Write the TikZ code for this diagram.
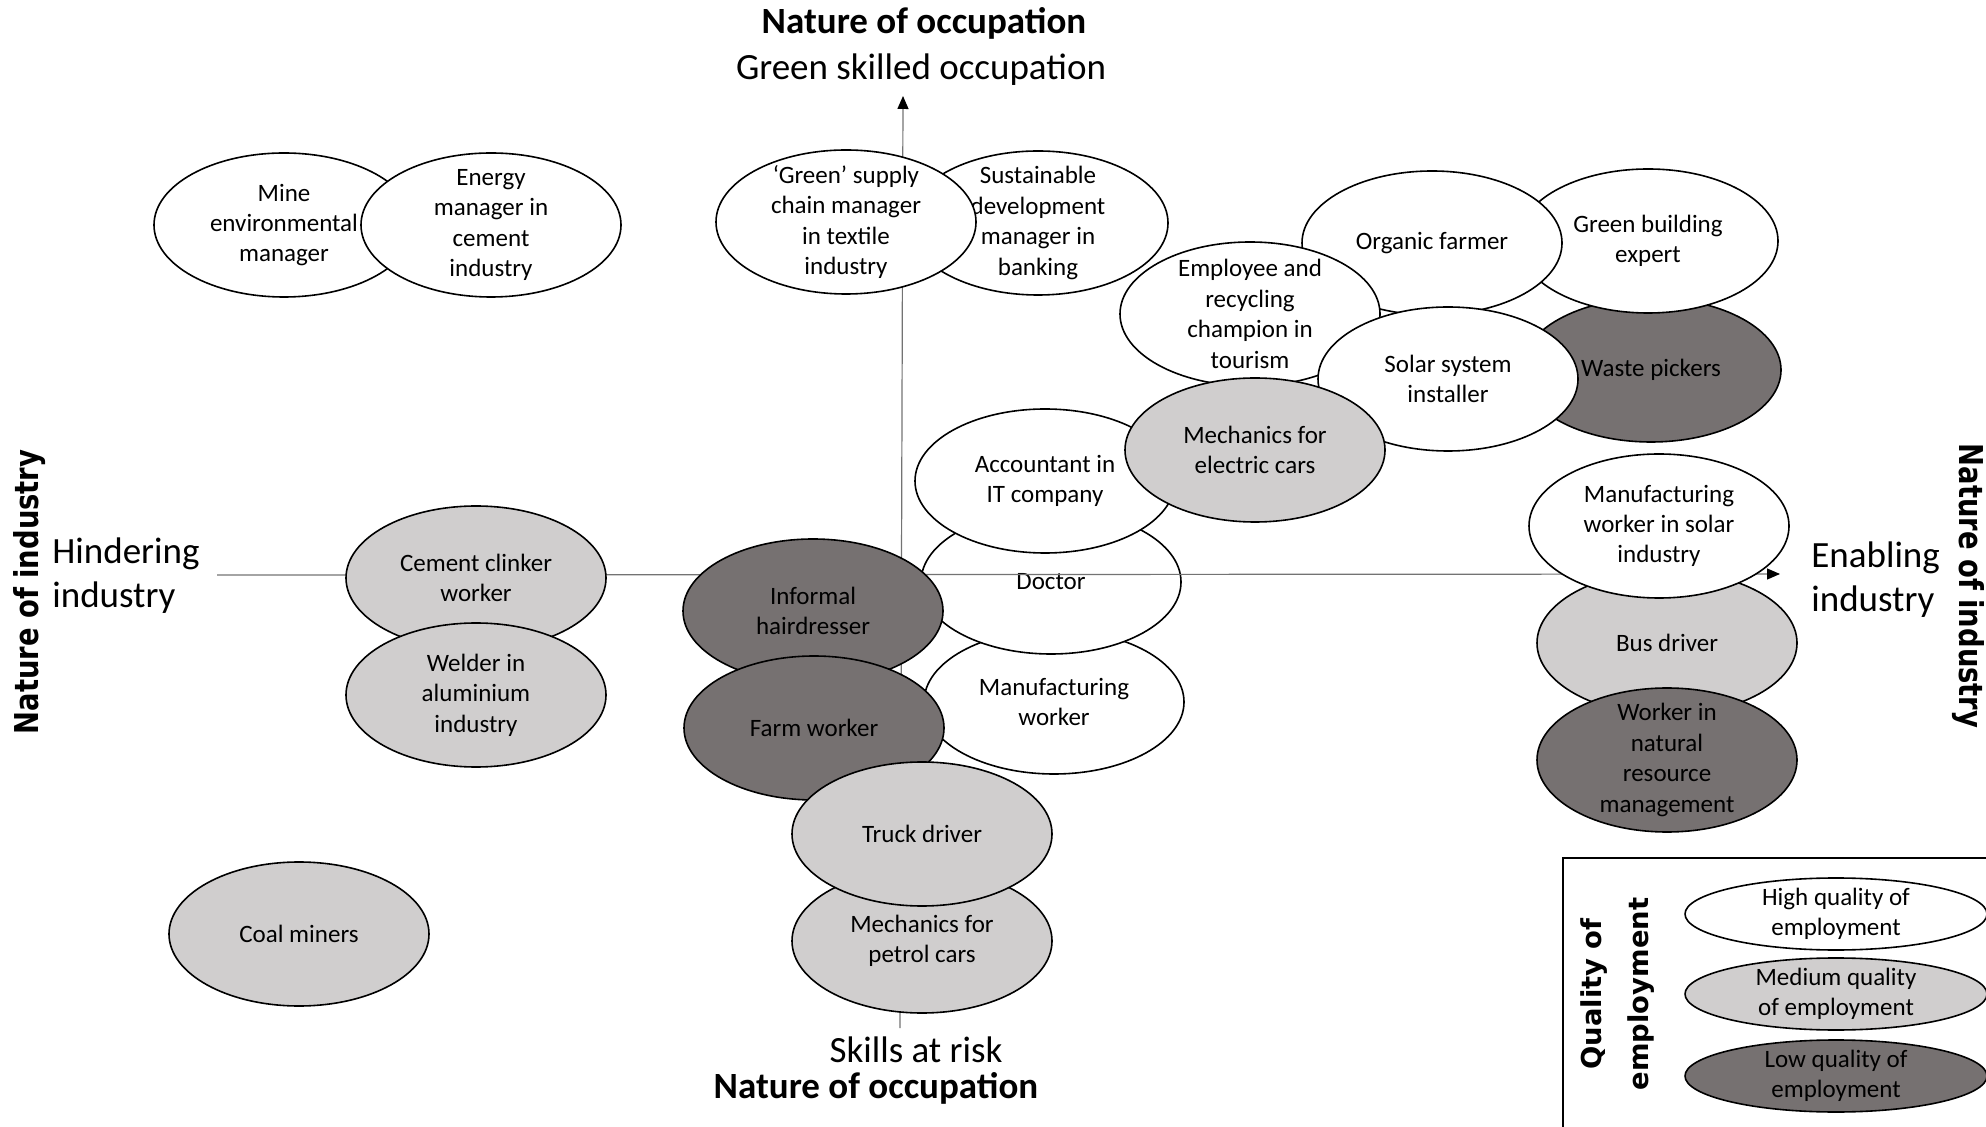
\documentclass[tikz,border=0pt]{standalone}
\usepackage{fontspec}
\setmainfont{Carlito}
\newfontfamily\headfont{DejaVu Sans}
\usetikzlibrary{shapes.geometric,arrows.meta}
\definecolor{medfill}{RGB}{208,206,206}
\definecolor{lowfill}{RGB}{118,113,113}
\definecolor{axisgray}{RGB}{115,115,115}
\begin{document}
\begin{tikzpicture}[x=0.5pt,y=-0.5pt,
  job/.style={ellipse, draw=black, line width=0.8pt, minimum width=130pt, minimum height=72pt, inner sep=0pt},
  hq/.style={job, fill=white},
  mq/.style={job, fill=medfill},
  lq/.style={job, fill=lowfill},
  txt/.style={align=center, inner sep=0pt, font=\fontsize{12.5}{15.2}\selectfont},
  axis/.style={draw=axisgray, line width=0.6pt},
  tip/.style={-{Triangle[length=6.5pt,width=5.5pt,color=black]}},
  axlabel/.style={inner sep=0pt, font=\fontsize{18.5}{22}\selectfont},
  axtitle/.style={inner sep=0pt, font=\fontsize{18.5}{22}\selectfont\bfseries},
  sidetitle/.style={inner sep=0pt, font=\headfont\bfseries\fontsize{13.7}{23.5}\selectfont},
  key/.style={ellipse, draw=black, line width=0.8pt, minimum width=151pt, minimum height=36pt, inner sep=0pt},
]
\clip (0,0) rectangle (1986,1127);

% occupations lying beneath the industry axis
\node[hq, label={[txt]center:{Manufacturing\\worker}}] (mfgw) at (1054,702) {};
\node[hq, label={[txt]center:Doctor}] (doctor) at (1051,582) {};

% axes
\coordinate (vbot) at (900,1028);
\coordinate (vtop) at (903,96);
\coordinate (hleft) at (217,575);
\coordinate (hright) at (1780,574);
\draw[axis, tip] (vbot) -- (vtop);
\draw[axis, tip] (hleft) -- (hright);

% green skilled, hindering industry
\node[hq, label={[txt]center:{Mine\\environmental\\manager}}] (mine) at (284,225) {};
\node[hq, label={[txt]center:{Energy\\manager in\\cement\\industry}}] (energy) at (491,225) {};

% green skilled, enabling industry
\node[hq, label={[txt]center:{Sustainable\\development\\manager in\\banking}}] (sust) at (1038,223) {};
\node[hq, label={[txt]center:{‘Green’ supply\\chain manager\\in textile\\industry}}] (supply) at (846,222) {};
\node[lq, label={[txt]center:Waste pickers}] (waste) at (1651,370) {};
\node[hq, label={[txt]center:{Green building\\expert}}] (gbuild) at (1648,241) {};
\node[hq, label={[txt]center:Organic farmer}] (organic) at (1432,243) {};
\node[hq, label={[txt]center:{Employee and\\recycling\\champion in\\tourism}}] (employee) at (1250,314) {};
\node[hq, label={[txt]center:{Solar system\\installer}}] (solar) at (1448,379) {};
\node[hq, label={[txt]center:{Accountant in\\IT company}}] (account) at (1045,481) {};
\node[mq, label={[txt]center:{Mechanics for\\electric cars}}] (mechel) at (1255,450) {};

% enabling industry, near the axis
\node[mq, label={[txt]center:Bus driver}] (bus) at (1667,643) {};
\node[hq, label={[txt]center:{Manufacturing\\worker in solar\\industry}}] (mfgsolar) at (1659,526) {};
\node[lq, label={[txt]center:{Worker in\\natural\\resource\\management}}] (natres) at (1667,760) {};

% hindering industry, near the axis
\node[mq, label={[txt]center:{Cement clinker\\worker}}] (clinker) at (476,578) {};
\node[mq, label={[txt]center:{Welder in\\aluminium\\industry}}] (welder) at (476,695) {};

% skills at risk
\node[lq, label={[txt]center:{Informal\\hairdresser}}] (hair) at (813,611) {};
\node[lq, label={[txt]center:Farm worker}] (farm) at (814,728) {};
\node[mq, label={[txt]center:{Mechanics for\\petrol cars}}] (petrol) at (922,941) {};
\node[mq, label={[txt]center:Truck driver}] (truck) at (922,834) {};
\node[mq, label={[txt]center:Coal miners}] (coal) at (299,934) {};

% axis labels
\node[axtitle] (occtop) at (924,23) {Nature of occupation};
\node[axlabel] (greenlbl) at (921,70) {Green skilled occupation};
\node[axlabel] (risklbl) at (916,1050) {Skills at risk};
\node[axtitle] (occbot) at (876,1088) {Nature of occupation};
\node[axlabel, align=left, anchor=west] (hinder) at (52,576) {Hindering\\industry};
\node[axlabel, align=left, anchor=west] (enable) at (1811,580) {Enabling\\industry};
\node[sidetitle, rotate=90] (indleft) at (30,592) {\scalebox{1}[1.2]{Nature of industry}};
\node[sidetitle, rotate=-90] (indright) at (1968,586) {\scalebox{1}[1.2]{Nature of industry}};

% legend
\draw[line width=1pt] (1563,858) rectangle (1995,1135);
\node[sidetitle, rotate=90, align=center] (qtitle) at (1618,994) {Quality of\\employment};
\node[key, fill=white, label={[txt]center:{High quality of\\employment}}] (khigh) at (1836,914) {};
\node[key, fill=medfill, label={[txt]center:{Medium quality\\of employment}}] (kmed) at (1836,994) {};
\node[key, fill=lowfill, label={[txt]center:{Low quality of\\employment}}] (klow) at (1836,1076) {};
\end{tikzpicture}
\end{document}
